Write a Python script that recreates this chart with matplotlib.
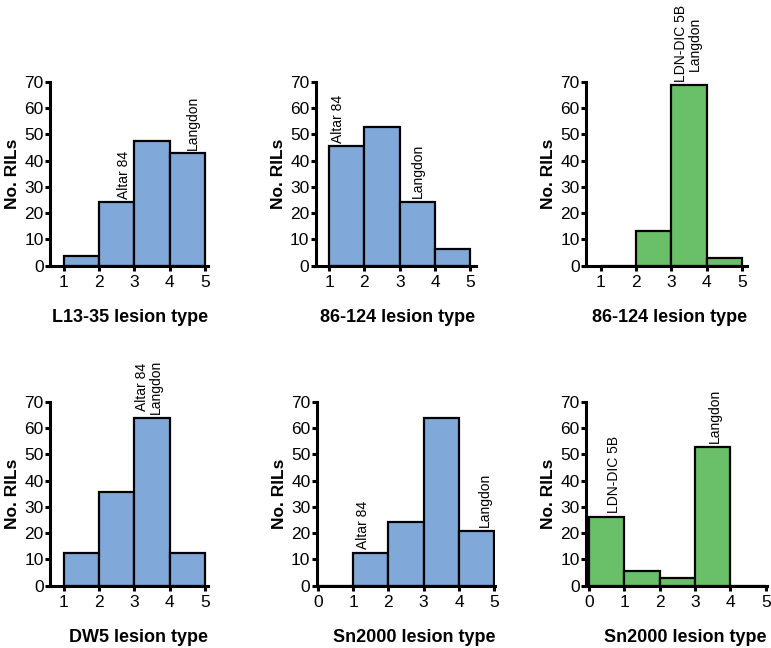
import matplotlib.pyplot as plt

plt.rcParams['font.family'] = ['Liberation Sans', 'DejaVu Sans']

BLUE = '#80a8d8'
GREEN = '#6abf69'

# bin edges (lesion type) and counts per panel
edges_1to5 = [1, 2, 3, 4, 5]
edges_0to5 = [0, 1, 2, 3, 4, 5]

l1335_counts = [3.7, 24.2, 47.4, 42.8]
p86_124_counts = [45.5, 52.8, 24.3, 6.5]
p86_124_ldn_counts = [0, 13.2, 68.7, 2.9]
dw5_counts = [12.5, 35.8, 64.0, 12.5]
sn2000_counts = [0, 12.5, 24.3, 63.8, 21.0]
sn2000_ldn_counts = [26.3, 5.7, 3.0, 52.9, 0]

# annotation: (x position in lesion type units, bin index, text)
l1335_notes = [(2.71, 1, 'Altar 84'), (4.67, 3, 'Langdon')]
p86_124_notes = [(1.25, 0, 'Altar 84'), (3.52, 2, 'Langdon')]
p86_124_ldn_notes = [(3.46, 2, 'LDN-DIC 5B\nLangdon')]
dw5_notes = [(3.41, 2, 'Altar 84\nLangdon')]
sn2000_notes = [(1.29, 1, 'Altar 84'), (4.74, 4, 'Langdon')]
sn2000_ldn_notes = [(0.69, 0, 'LDN-DIC 5B'), (3.57, 3, 'Langdon')]

panels = [
    # edges, counts, color, notes, xlabel, left px, xlim, xticks
    (edges_1to5, l1335_counts, BLUE, l1335_notes, 'L13-35 lesion type', 50, (0.61, 5.1), 265.7),
    (edges_1to5, p86_124_counts, BLUE, p86_124_notes, '86-124 lesion type', 315.7, (0.62, 5.15), 265.7),
    (edges_1to5, p86_124_ldn_counts, GREEN, p86_124_ldn_notes, '86-124 lesion type', 586, (0.58, 5.15), 265.7),
    (edges_1to5, dw5_counts, BLUE, dw5_notes, 'DW5 lesion type', 50, (0.61, 5.1), 585.7),
    (edges_0to5, sn2000_counts, BLUE, sn2000_notes, 'Sn2000 lesion type', 316.7, (-0.03, 5.03), 585.7),
    (edges_0to5, sn2000_ldn_counts, GREEN, sn2000_ldn_notes, 'Sn2000 lesion type', 586, (-0.09, 5.03), 585.7),
]

W, H = 771, 648
UNIT = 35.3
AX_H = 183.7

fig = plt.figure(figsize=(W / 100, H / 100), dpi=100)

for edges, counts, color, notes, xlabel, left, xlim, base in panels:
    width_px = (xlim[1] - xlim[0]) * UNIT
    ax = fig.add_axes([left / W, (H - base) / H, width_px / W, AX_H / H])
    ax.bar(edges[:-1], counts, width=1, align='edge', color=color,
           edgecolor='black', linewidth=1.6, zorder=2)
    for x, i, txt in notes:
        ax.annotate(txt, (x, counts[i]), xytext=(0, 2.5), textcoords='offset points',
                    rotation=90, ha='center', va='bottom', fontsize=10,
                    linespacing=0.95, annotation_clip=False)
    ax.set_xlim(*xlim)
    ax.set_ylim(0, 70)
    ax.set_xticks(edges)
    ax.set_yticks(range(0, 71, 10))
    for s in ['top', 'right']:
        ax.spines[s].set_visible(False)
    for s in ['left', 'bottom']:
        ax.spines[s].set_linewidth(2.2)
        ax.spines[s].set_zorder(3)
    ax.tick_params(axis='both', labelsize=12.5, width=2.2, length=3.5)
    ax.tick_params(axis='x', pad=3)
    ax.tick_params(axis='y', pad=1)
    ax.set_ylabel('No. RILs', fontsize=12.5, fontweight='bold', labelpad=3)
    ax.set_xlabel(xlabel, fontsize=13, fontweight='bold', ha='right')
    ax.xaxis.set_label_coords(1.0, -0.235)
    ax.patch.set_visible(False)

fig.savefig('out.png', dpi=100)
